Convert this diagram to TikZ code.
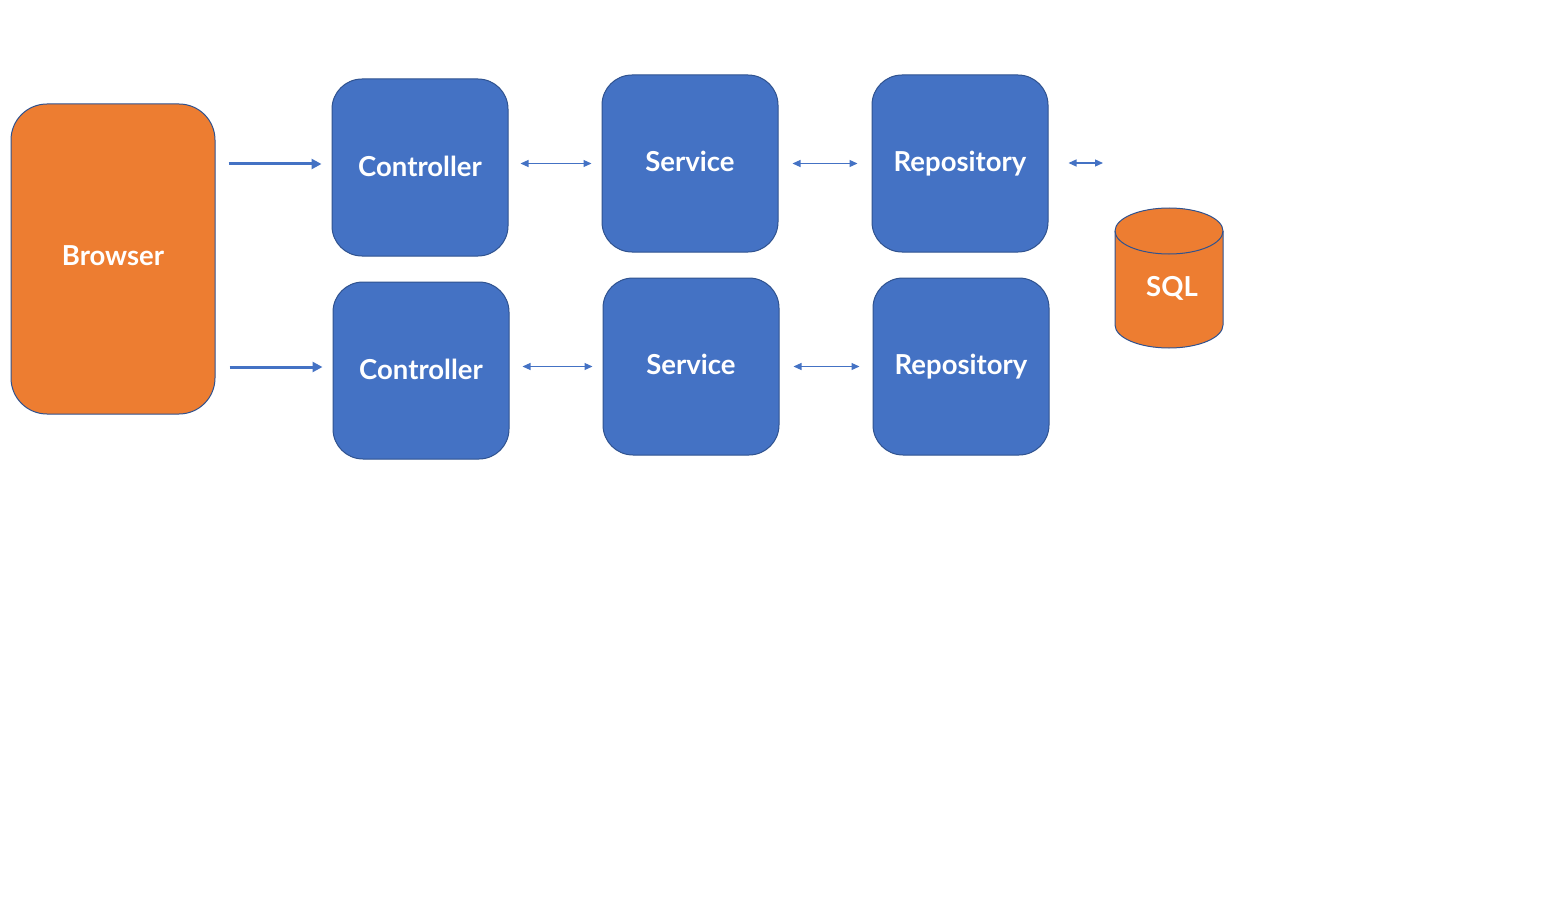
\documentclass[tikz,border=0pt]{standalone}
\usepackage{fontspec}
\setmainfont{Lato}
\usetikzlibrary{arrows.meta}
\definecolor{boxblue}{HTML}{4472C4}
\definecolor{boxorange}{HTML}{ED7D31}
\definecolor{edgeblue}{HTML}{2F528F}
\tikzset{
  layerbox/.style={draw=edgeblue, line width=1pt, fill=boxblue, rounded corners=30pt,
    minimum width=176pt, minimum height=177pt, inner sep=0pt, text=white,
    font=\fontsize{27.5}{30}\selectfont\bfseries},
  clientbox/.style={draw=edgeblue, line width=1pt, fill=boxorange, rounded corners=36pt,
    minimum width=204pt, minimum height=310pt, inner sep=0pt, text=white,
    font=\fontsize{27.5}{30}\selectfont\bfseries},
  bigarrow/.style={draw=boxblue, line width=3pt, -{Triangle[length=10pt,width=10pt]}},
  twoway/.style={draw=boxblue, line width=1.2pt, {Triangle[length=8pt,width=7pt]}-{Triangle[length=8pt,width=7pt]}},
}
\begin{document}
\begin{tikzpicture}[x=1pt,y=1pt]
\useasboundingbox (0,0) rectangle (1552,-920);
\node[clientbox] (browser) at (113,-259) {\raisebox{7pt}{Browser}};
\node[layerbox] (ctrl1) at (420,-167.5) {\raisebox{2.5pt}{Controller}};
\node[layerbox] (svc1) at (690,-163.5) {\raisebox{3.5pt}{Service}};
\node[layerbox] (repo1) at (960,-163.5) {\raisebox{3pt}{Repository}};
\node[layerbox] (ctrl2) at (421,-370.5) {\raisebox{2.5pt}{Controller}};
\node[layerbox] (svc2) at (691,-366.5) {\raisebox{3.5pt}{Service}};
\node[layerbox] (repo2) at (961,-366.5) {\raisebox{3pt}{Repository}};
% SQL cylinder
\fill[boxorange] (1115,-231) -- (1115,-325) arc[start angle=180,end angle=360,x radius=54,y radius=23]
  -- (1223,-231) arc[start angle=0,end angle=180,x radius=54,y radius=23] -- cycle;
\draw[edgeblue, line width=1pt] (1115,-231) -- (1115,-325) arc[start angle=180,end angle=360,x radius=54,y radius=23]
  -- (1223,-231) arc[start angle=0,end angle=180,x radius=54,y radius=23];
\draw[edgeblue, line width=1pt] (1115,-231) arc[start angle=180,end angle=360,x radius=54,y radius=23];
\node[text=white, font=\fontsize{27.5}{30}\selectfont\bfseries] (sql) at (1172,-288) {SQL};
\coordinate (dbend) at (1103,-163);
% connectors
\draw[bigarrow, shorten <=13pt, shorten >=10pt] (browser.east |- 0,-164) -- (ctrl1.west |- 0,-164);
\draw[bigarrow, shorten <=14pt, shorten >=10pt] (browser.east |- 0,-367) -- (ctrl2.west |- 0,-367);
\draw[twoway, shorten <=12pt, shorten >=10pt] (ctrl1.east |- svc1.west) -- (svc1.west);
\draw[twoway, shorten <=14pt, shorten >=14pt] (svc1.east) -- (repo1.west);
\draw[twoway, shorten <=20pt] (repo1.east |- dbend) -- (dbend);
\draw[twoway, shorten <=13pt, shorten >=10pt] (ctrl2.east |- svc2.west) -- (svc2.west);
\draw[twoway, shorten <=14pt, shorten >=13pt] (svc2.east) -- (repo2.west);
\end{tikzpicture}
\end{document}
